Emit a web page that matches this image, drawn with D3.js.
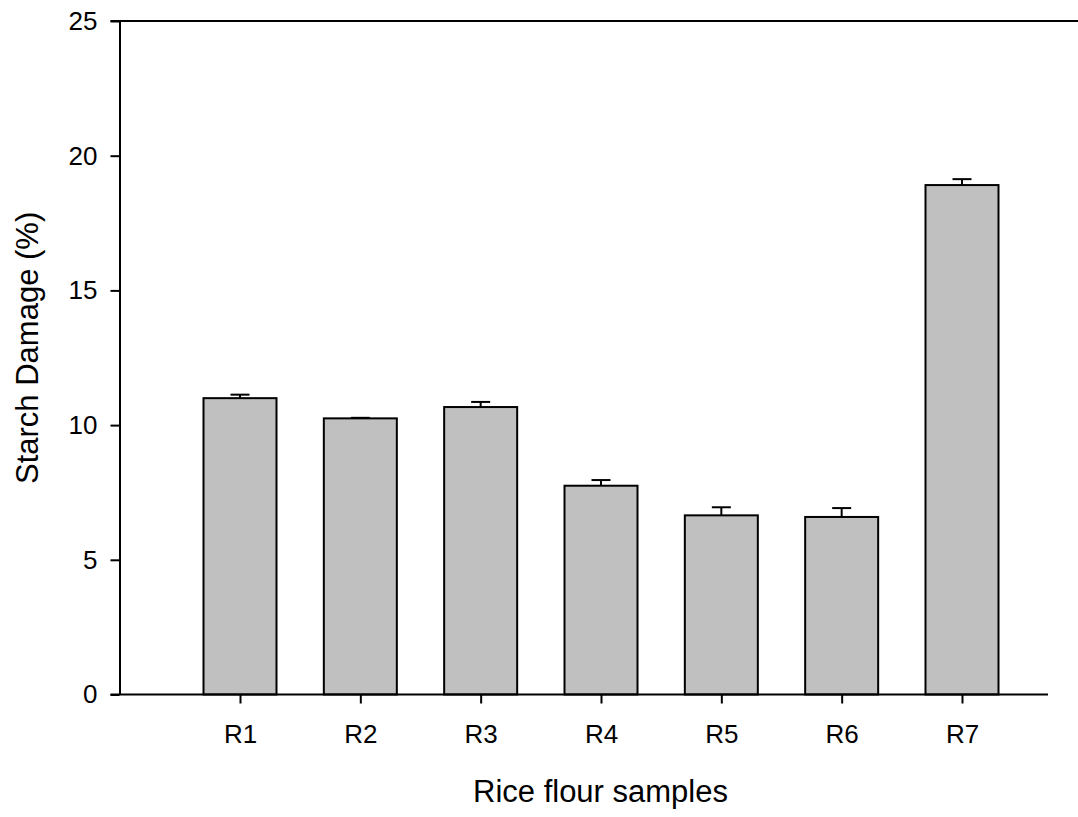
<!DOCTYPE html>
<html><head><meta charset="utf-8">
<script src="https://cdn.jsdelivr.net/npm/d3@7"></script>
<style>body{margin:0;background:#fff;} text{font-family:"Liberation Sans",Arial,sans-serif;}</style>
</head><body>
<svg id="c" width="1078" height="817"></svg>
<script>
const categories = ["R1","R2","R3","R4","R5","R6","R7"];
const values = [11.0, 10.25, 10.67, 7.75, 6.65, 6.59, 18.91];
const errors = [0.13, 0.02, 0.19, 0.21, 0.30, 0.33, 0.22];
const yTicks = [0, 5, 10, 15, 20, 25];

const svg = d3.select("#c");
const L = 119.5, R = 1048, T = 21, B = 694.5;
const y = d3.scaleLinear().domain([0, 25]).range([B, T]);
const x = d3.scalePoint().domain(categories).range([240, 962]);
const barW = 73, capW = 19;

// bars
svg.append("g").selectAll("rect").data(categories).join("rect")
  .attr("x", d => x(d) - barW/2)
  .attr("y", (d,i) => y(values[i]))
  .attr("width", barW)
  .attr("height", (d,i) => y(0) - y(values[i]))
  .attr("fill", "#c0c0c0").attr("stroke", "#000").attr("stroke-width", 2);

// error bars
const eb = svg.append("g").attr("stroke", "#000").attr("stroke-width", 2);
categories.forEach((c, i) => {
  eb.append("line").attr("x1", x(c)).attr("x2", x(c)).attr("y1", y(values[i])).attr("y2", y(values[i] + errors[i]));
  eb.append("line").attr("x1", x(c) - capW/2).attr("x2", x(c) + capW/2).attr("y1", y(values[i] + errors[i])).attr("y2", y(values[i] + errors[i]));
});

// y axis
const ya = svg.append("g").attr("transform", `translate(${L},0)`)
  .call(d3.axisLeft(y).tickValues(yTicks).tickSize(9).tickSizeOuter(0).tickPadding(13));
ya.select(".domain").attr("stroke-width", 2);
ya.selectAll(".tick line").attr("stroke-width", 2);
ya.selectAll("text").attr("font-size", 26).attr("fill", "#000").attr("font-family", "Liberation Sans, Arial, sans-serif");

// x axis
const xa = svg.append("g").attr("transform", `translate(0,${B})`)
  .call(d3.axisBottom(x).tickSize(9).tickSizeOuter(0).tickPadding(21));
xa.select(".domain").remove();
xa.selectAll(".tick line").attr("stroke-width", 2);
xa.selectAll("text").attr("font-size", 26).attr("fill", "#000").attr("font-family", "Liberation Sans, Arial, sans-serif");
svg.append("line").attr("x1", L - 9).attr("x2", R).attr("y1", B).attr("y2", B).attr("stroke", "#000").attr("stroke-width", 2);

// top frame line
svg.append("line").attr("x1", L - 9).attr("x2", 1078).attr("y1", T).attr("y2", T).attr("stroke", "#000").attr("stroke-width", 2);

// titles
svg.append("text").attr("x", 473).attr("y", 802).attr("text-anchor", "start").attr("font-size", 31).text("Rice flour samples");
svg.append("text").attr("transform", `translate(38,484) rotate(-90)`).attr("text-anchor", "start").attr("font-size", 31).text("Starch Damage (%)");
</script>
</body></html>
